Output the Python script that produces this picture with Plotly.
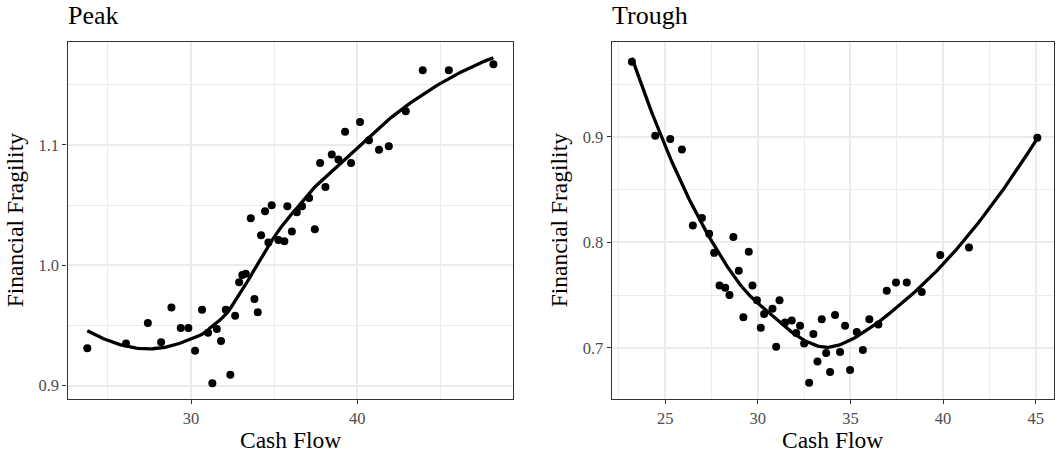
import numpy as np
import plotly.graph_objects as go

# ---------------- data ----------------
peak_x = [23.76, 26.09, 27.40, 28.20, 28.82, 29.38, 29.84, 30.24, 30.66, 31.02,
          31.28, 31.55, 31.80, 32.09, 32.36, 32.65, 32.89, 33.08, 33.29, 33.59,
          33.81, 34.01, 34.21, 34.45, 34.65, 34.85, 35.25, 35.61, 35.79, 36.06,
          36.36, 36.67, 37.10, 37.44, 37.76, 38.08, 38.46, 38.86, 39.26, 39.62,
          40.16, 40.70, 41.30, 41.89, 42.91, 43.93, 45.50, 48.18]
peak_y = [0.931, 0.935, 0.952, 0.936, 0.965, 0.948, 0.948, 0.929, 0.963, 0.944,
          0.902, 0.947, 0.937, 0.963, 0.909, 0.958, 0.986, 0.992, 0.993, 1.039,
          0.972, 0.961, 1.025, 1.045, 1.019, 1.050, 1.021, 1.020, 1.049, 1.028,
          1.044, 1.049, 1.056, 1.030, 1.085, 1.065, 1.092, 1.088, 1.111, 1.085,
          1.119, 1.104, 1.096, 1.099, 1.128, 1.162, 1.162, 1.167]

trough_x = [23.20, 24.46, 25.27, 25.90, 26.49, 26.98, 27.37, 27.64, 27.93, 28.24,
            28.47, 28.68, 28.97, 29.22, 29.51, 29.71, 29.95, 30.16, 30.34, 30.79,
            30.99, 31.17, 31.47, 31.83, 32.07, 32.28, 32.50, 32.77, 33.00, 33.22,
            33.45, 33.69, 33.90, 34.17, 34.44, 34.71, 34.98, 35.34, 35.67, 36.02,
            36.51, 36.96, 37.46, 38.04, 38.85, 39.85, 41.40, 45.09]
trough_y = [0.971, 0.901, 0.898, 0.888, 0.816, 0.823, 0.808, 0.790, 0.759, 0.757,
            0.750, 0.805, 0.773, 0.729, 0.791, 0.759, 0.745, 0.719, 0.732, 0.737,
            0.701, 0.745, 0.724, 0.726, 0.714, 0.721, 0.704, 0.667, 0.713, 0.687,
            0.727, 0.695, 0.677, 0.731, 0.696, 0.721, 0.679, 0.715, 0.698, 0.727,
            0.722, 0.754, 0.762, 0.762, 0.753, 0.788, 0.795, 0.899]

panel_titles = ["Peak", "Trough"]
x_title = "Cash Flow"
y_title = "Financial Fragility"


def loess(x, y, xs, span=0.75):
    x = np.asarray(x, float)
    y = np.asarray(y, float)
    n = len(x)
    q = int(np.floor(n * span))
    out = []
    for x0 in xs:
        d = np.abs(x - x0)
        h = np.sort(d)[q - 1]
        u = np.clip(d / h, 0, 1)
        w = (1 - u ** 3) ** 3
        X = np.vstack([np.ones(n), x - x0, (x - x0) ** 2]).T
        sw = np.sqrt(w)
        beta = np.linalg.lstsq(X * sw[:, None], y * sw, rcond=None)[0]
        out.append(beta[0])
    return np.array(out)


W, H = 1058, 455


def fx(px):
    return px / W


def fy(py):
    return 1 - py / H


fig = go.Figure()

series = [(peak_x, peak_y, "x", "y"), (trough_x, trough_y, "x2", "y2")]
for xs_, ys_, xa, ya in series:
    grid = np.linspace(min(xs_), max(xs_), 200)
    fit = loess(xs_, ys_, grid)
    fig.add_trace(go.Scatter(x=xs_, y=ys_, mode="markers", xaxis=xa, yaxis=ya,
                             marker=dict(color="black", size=8, line=dict(width=0)),
                             showlegend=False, hoverinfo="skip"))
    fig.add_trace(go.Scatter(x=grid, y=fit, mode="lines", xaxis=xa, yaxis=ya,
                             line=dict(color="black", width=3.3),
                             showlegend=False, hoverinfo="skip"))

font_fam = "Liberation Serif, Times New Roman, serif"
tickfont = dict(family=font_fam, size=16.5, color="#4D4D4D")

common = dict(showline=True, mirror=True, linecolor="#333333", linewidth=1.3,
              ticks="outside", ticklen=4, tickcolor="#333333", tickwidth=1.1,
              showgrid=True, gridcolor="#EBEBEB", gridwidth=1.8,
              zeroline=False, tickfont=tickfont)

top, bottom = 41.7, 399
fig.update_layout(
    width=W, height=H,
    margin=dict(l=0, r=0, t=0, b=0),
    paper_bgcolor="white", plot_bgcolor="white",
    xaxis=dict(domain=[fx(67.5), fx(512.7)], range=[22.57, 49.34], anchor="y",
               tick0=0, dtick=10,
               minor=dict(dtick=5, tick0=0, showgrid=True, gridcolor="#EBEBEB", gridwidth=0.9, ticks=""),
               **common),
    yaxis=dict(domain=[fy(bottom), fy(top)], range=[0.8889, 1.1858], anchor="x",
               tick0=0, dtick=0.1, tickformat=".1f",
               minor=dict(dtick=0.05, tick0=0, showgrid=True, gridcolor="#EBEBEB", gridwidth=0.9, ticks=""),
               **common),
    xaxis2=dict(domain=[fx(611.7), fx(1054)], range=[22.11, 45.99], anchor="y2",
                tick0=0, dtick=5,
                minor=dict(dtick=2.5, tick0=0, showgrid=True, gridcolor="#EBEBEB", gridwidth=0.9, ticks=""),
                **common),
    yaxis2=dict(domain=[fy(bottom), fy(top)], range=[0.6515, 0.9901], anchor="x2",
                tick0=0, dtick=0.1, tickformat=".1f",
                minor=dict(dtick=0.05, tick0=0, showgrid=True, gridcolor="#EBEBEB", gridwidth=0.9, ticks=""),
                **common),
)

annots = []
# panel titles
for t, x0 in zip(panel_titles, [65.5, 609.7]):
    annots.append(dict(text=t, x=fx(x0), y=fy(32), xref="paper", yref="paper",
                       xanchor="left", yanchor="bottom", showarrow=False,
                       font=dict(family=font_fam, size=26, color="black")))
# x titles
for xc in [(67.5 + 512.7) / 2, (611.7 + 1054) / 2]:
    annots.append(dict(text=x_title, x=fx(xc), y=fy(440), xref="paper", yref="paper",
                       xanchor="center", yanchor="middle", showarrow=False,
                       font=dict(family=font_fam, size=23.5, color="black")))
# y titles
for xc in [15, 559]:
    annots.append(dict(text=y_title, x=fx(xc), y=fy((top + bottom) / 2), xref="paper", yref="paper",
                       xanchor="center", yanchor="middle", showarrow=False, textangle=-90,
                       font=dict(family=font_fam, size=23.5, color="black")))
fig.update_layout(annotations=annots)

fig.write_html("out.html")
